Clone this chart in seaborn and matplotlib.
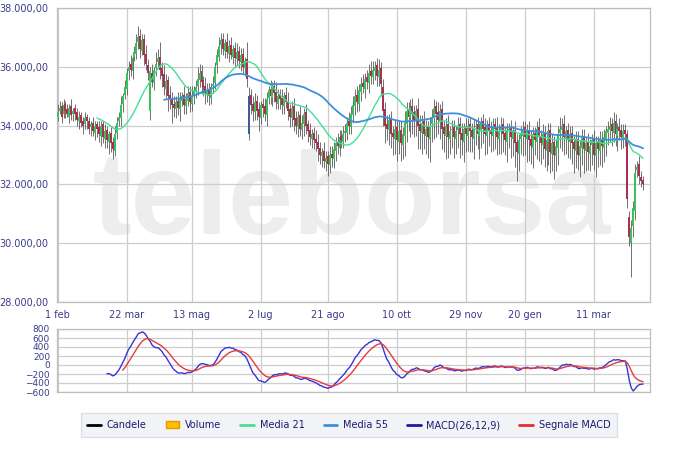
import numpy as np
import pandas as pd
import matplotlib
matplotlib.use("Agg")
import matplotlib.pyplot as plt
from matplotlib.lines import Line2D
from matplotlib.patches import Patch
from matplotlib.ticker import FuncFormatter
import seaborn as sns

sns.set_style("white")
plt.rcParams['font.family'] = ['DejaVu Sans']

# daily candles (1 feb -> early april)
closes = [
    34450, 34600, 34300, 34700, 34500, 34400, 34600, 34350, 34500, 34400,
    34200, 34300, 34100, 34000, 34250, 34150, 33900, 34050, 33800, 34000,
    33900, 33700, 34000, 33600, 33800, 33500, 33700, 33400, 33200, 33700,
    34100, 34300, 34700, 35000, 35300, 35800, 36000, 35900, 36300, 36500,
    36800, 37000, 36600, 36900, 36400, 36100, 35800, 35850, 35500, 35900,
    36100, 36300, 35900, 35700, 35300, 35500, 35000, 34900, 34700, 34600,
    34800, 34600, 34900, 35000, 34700, 34900, 35100, 34800, 35000, 35200,
    35300, 35600, 35800, 35500, 35300, 35100, 35200, 35000, 35300, 35400,
    36000, 36400, 36700, 36900, 36600, 36800, 36500, 36700, 36400, 36600,
    36300, 36500, 36200, 36400, 36000, 36200, 35600, 35000, 34700, 34500,
    34800, 34500, 34300, 34700, 34600, 34400, 34900, 35200, 35000, 35300,
    35100, 34800, 35000, 34900, 34700, 35000, 34800, 34500, 34300, 34600,
    34200, 34000, 34300, 33900, 34100, 34400, 34000, 33800, 33600, 33700,
    33500, 33400, 33200, 33000, 33100, 32800, 32900, 32700, 33000, 32900,
    33200, 33400, 33300, 33600, 33500, 33700, 33800, 34100, 34000, 34400,
    34700, 35000, 34800, 35200, 35400, 35300, 35600, 35500, 35800, 35700,
    35900, 36000, 35700, 35900, 35400, 34500, 34000, 33900, 34200, 33700,
    33600, 33900, 33500, 33800, 33400, 33700, 34100, 34500, 34300, 34600,
    34400, 34200, 34500, 34000, 33800, 34100, 33700, 33900, 33600, 34000,
    34300, 34600, 34400, 34200, 34500, 33900, 33700, 34000, 33600, 33800,
    33900, 33600, 33800, 34000, 33700, 33500, 33900, 33700, 34000, 33800,
    33600, 33900, 34000, 33700, 33800, 34100, 33900, 33700, 34000, 33800,
    33700, 34000, 33900, 33600, 33800, 34000, 33700, 33500, 33800, 33900,
    33600, 33800, 33400, 33100, 33500, 33700, 33900, 33600, 33800, 33500,
    33300, 33700, 33500, 33900, 33600, 33400, 33700, 33200, 33500, 33800,
    33100, 33400, 33000, 33300, 33700, 33900, 34000, 33600, 33800, 33500,
    33700, 33400, 33200, 33500, 33000, 33300, 33600, 33200, 33400, 33100,
    33300, 33500, 33000, 33400, 33200, 33500, 33300, 33600, 33800, 33900,
    34000, 33800, 34100, 33700, 33900, 33800, 33600, 33800, 33700, 31500,
    30200, 30500, 31200, 32400, 32600, 32300, 32100, 32000,
]
opens = [
    34300, 34500, 34650, 34400, 34750, 34550, 34300, 34650, 34400, 34600,
    34450, 34150, 34350, 34150, 34050, 34300, 34150, 33950, 34100, 33750,
    34050, 33950, 33650, 34050, 33550, 33850, 33450, 33750, 33450, 33150,
    33750, 34150, 34250, 34750, 35050, 35250, 35850, 36100, 35850, 36350,
    36450, 36850, 37050, 36550, 36950, 36450, 36050, 34500, 35800, 35450,
    35950, 36150, 36350, 35950, 35750, 35250, 35550, 35050, 34950, 34750,
    34550, 34850, 34550, 34850, 35050, 34650, 34850, 35150, 34750, 35050,
    35150, 35350, 35550, 35850, 35550, 35350, 35050, 35250, 34950, 35350,
    35450, 36050, 36350, 36750, 36950, 36550, 36850, 36450, 36750, 36350,
    36650, 36250, 36550, 36150, 36450, 35950, 36250, 33700, 35050, 34750,
    34450, 34850, 34550, 34250, 34750, 34650, 34350, 34950, 35250, 34950,
    35350, 35150, 34750, 35050, 34950, 34650, 35050, 34850, 34550, 34250,
    34650, 34250, 33950, 34350, 33850, 34050, 34450, 34050, 33850, 33550,
    33750, 33550, 33450, 33250, 32950, 33150, 32750, 32950, 32650, 33050,
    32850, 33150, 33450, 33250, 33650, 33450, 33750, 33750, 34150, 33950,
    34350, 34650, 35050, 34750, 35150, 35450, 35250, 35650, 35450, 35850,
    35650, 35850, 36050, 35650, 35950, 35300, 34550, 34050, 33850, 34250,
    33750, 33550, 33950, 33450, 33850, 33350, 33650, 34050, 34550, 34250,
    34650, 34450, 34150, 34550, 34050, 33750, 34150, 33650, 33950, 33550,
    34050, 34250, 34650, 34450, 34150, 34550, 33950, 33650, 34050, 33550,
    33850, 33950, 33550, 33850, 34050, 33750, 33450, 33950, 33650, 34050,
    33850, 33550, 33950, 34050, 33650, 33850, 34150, 33950, 33650, 34050,
    33850, 33650, 34050, 33950, 33550, 33850, 34050, 33750, 33450, 33850,
    33950, 33550, 33850, 33450, 33050, 33550, 33650, 33950, 33550, 33850,
    33550, 33250, 33750, 33450, 33950, 33650, 33350, 33750, 33150, 33450,
    33850, 33050, 33450, 32950, 33250, 33750, 33850, 34050, 33550, 33850,
    33450, 33750, 33450, 33150, 33550, 32950, 33250, 33650, 33150, 33450,
    33050, 33350, 33550, 32950, 33450, 33150, 33550, 33250, 33550, 33750,
    33850, 34050, 33750, 34150, 33650, 33950, 33850, 33550, 33850, 33700,
    30900, 30000, 30600, 31100, 32500, 32700, 32250, 32150,
]
upper_wick = [
    300, 250, 150, 200, 100, 200, 150, 250, 100, 150,
    150, 200, 100, 150, 200, 100, 150, 100, 200, 150,
    100, 200, 150, 100, 250, 150, 100, 200, 150, 300,
    200, 150, 300, 100, 250, 150, 200, 300, 150, 200,
    300, 400, 250, 200, 150, 300, 200, 150, 300, 100,
    400, 300, 500, 200, 300, 250, 150, 300, 200, 250,
    200, 300, 250, 150, 300, 200, 250, 200, 350, 150,
    250, 400, 300, 200, 150, 300, 250, 200, 150, 300,
    150, 200, 300, 250, 200, 150, 300, 200, 250, 150,
    200, 300, 150, 250, 200, 150, 600, 300, 200, 250,
    300, 200, 250, 150, 200, 300, 250, 150, 300, 200,
    200, 350, 250, 200, 300, 150, 250, 300, 200, 250,
    300, 250, 200, 300, 250, 200, 300, 150, 250, 200,
    200, 300, 250, 200, 150, 300, 250, 200, 300, 250,
    250, 200, 300, 250, 200, 300, 250, 200, 300, 250,
    300, 250, 300, 200, 250, 300, 200, 250, 300, 350,
    300, 200, 250, 350, 200, 300, 250, 300, 200, 250,
    250, 300, 200, 350, 300, 250, 400, 300, 250, 300,
    300, 250, 200, 400, 300, 250, 350, 300, 200, 300,
    250, 300, 200, 350, 250, 300, 200, 250, 300, 200,
    300, 250, 200, 300, 250, 350, 200, 300, 250, 200,
    250, 300, 200, 250, 300, 200, 250, 300, 200, 250,
    300, 250, 200, 350, 250, 300, 200, 250, 300, 200,
    250, 200, 300, 250, 200, 300, 250, 200, 250, 300,
    300, 250, 200, 250, 300, 200, 350, 250, 200, 300,
    250, 300, 200, 250, 300, 400, 250, 300, 200, 250,
    300, 250, 200, 300, 250, 200, 300, 250, 200, 300,
    250, 200, 300, 250, 200, 300, 250, 300, 200, 250,
    300, 200, 350, 250, 200, 300, 200, 250, 200, 150,
    200, 300, 250, 300, 200, 250, 200, 150,
]
lower_wick = [
    150, 100, 200, 150, 250, 100, 200, 150, 250, 200,
    200, 250, 150, 300, 150, 250, 200, 300, 150, 250,
    300, 250, 350, 200, 300, 250, 400, 300, 350, 200,
    200, 150, 250, 300, 150, 200, 300, 200, 250, 150,
    200, 250, 300, 150, 350, 200, 250, 300, 200, 250,
    250, 200, 300, 400, 250, 300, 500, 350, 600, 300,
    300, 250, 400, 200, 300, 250, 200, 350, 250, 300,
    200, 300, 250, 400, 300, 350, 250, 300, 200, 250,
    200, 250, 150, 300, 200, 250, 200, 300, 150, 250,
    300, 200, 250, 300, 200, 250, 300, 200, 300, 350,
    250, 300, 500, 200, 300, 250, 350, 200, 250, 300,
    300, 250, 200, 350, 300, 250, 200, 300, 350, 250,
    400, 300, 350, 250, 300, 400, 300, 350, 250, 300,
    300, 250, 400, 300, 350, 250, 300, 400, 250, 300,
    300, 350, 250, 300, 250, 200, 300, 250, 300, 250,
    250, 300, 350, 250, 300, 200, 300, 250, 350, 300,
    250, 300, 350, 300, 400, 500, 600, 400, 500, 450,
    600, 500, 700, 400, 600, 500, 700, 600, 500, 650,
    700, 600, 500, 800, 600, 700, 500, 600, 700, 800,
    600, 700, 800, 500, 600, 700, 600, 800, 700, 500,
    600, 700, 500, 600, 800, 500, 700, 600, 500, 700,
    500, 700, 600, 500, 800, 600, 500, 700, 600, 500,
    600, 500, 700, 600, 500, 800, 600, 500, 700, 600,
    700, 600, 800, 1000, 600, 500, 700, 600, 800, 700,
    600, 700, 500, 600, 800, 700, 500, 600, 700, 800,
    700, 600, 800, 500, 600, 500, 700, 600, 500, 600,
    600, 700, 800, 600, 500, 700, 600, 800, 700, 600,
    600, 700, 500, 700, 600, 500, 700, 500, 600, 400,
    400, 500, 300, 400, 500, 300, 400, 300, 400, 300,
    300, 1150, 400, 300, 250, 300, 200, 200,
]

tick_pos = [0, 35, 68, 103, 137, 172, 207, 237, 272]
tick_labels = ["1 feb", "22 mar", "13 mag", "2 lug", "21 ago", "10 ott",
               "29 nov", "20 gen", "11 mar"]

df = pd.DataFrame({"open": opens, "close": closes})
df["high"] = df[["open", "close"]].max(axis=1) + np.array(upper_wick)
df["low"] = df[["open", "close"]].min(axis=1) - np.array(lower_wick)
df["idx"] = np.arange(len(df))
df["ma21"] = df["close"].rolling(21).mean()
df["ma55"] = df["close"].rolling(55).mean()
ema12 = df["close"].ewm(span=12, adjust=False).mean()
ema26 = df["close"].ewm(span=26, adjust=False).mean()
macd = ema12 - ema26
macd[:25] = np.nan
signal = macd.ewm(span=9, adjust=False).mean()
signal[:33] = np.nan
df["macd"] = macd
df["signal"] = signal

# candle colour: direction of the day + vs previous close
prev = df["close"].shift(1).fillna(df["open"])
cols = []
for o, c, p in zip(df["open"], df["close"], prev):
    if c >= o and c >= p:
        cols.append("#3cc05a")
    elif c < o and c < p:
        cols.append("#a83050")
    elif c >= o:
        cols.append("#3d5c94")
    else:
        cols.append("#8c8c8c")

lab_col = "#3b3b8c"
grid_col = "#cdcdcd"

fig = plt.figure(figsize=(7, 4.51), dpi=100)
ax = fig.add_axes([57 / 700, 1 - 302 / 451, 593 / 700, 294 / 451])
ax2 = fig.add_axes([57 / 700, 1 - 392 / 451, 593 / 700, 63 / 451])

# watermark
ax.text(149, 30300, "teleborsa", ha="center", va="baseline", fontsize=84,
        fontweight="bold", color="#ededed", zorder=0, clip_on=True,
        family=["Liberation Sans", "DejaVu Sans"])

ax.vlines(df["idx"], df["low"], df["high"], color="#5a5a5a", lw=0.6, zorder=2)
body = (df["close"] - df["open"]).abs().clip(lower=40)
ax.bar(df["idx"], body, bottom=df[["open", "close"]].min(axis=1), width=1.0,
       color=cols, linewidth=0, zorder=3)
sns.lineplot(data=df, x="idx", y="ma21", ax=ax, color="#44e095", lw=1, zorder=4)
sns.lineplot(data=df, x="idx", y="ma55", ax=ax, color="#3f8fe0", lw=1.3, zorder=4)

ax.set_xlim(-0.3, 300.5)
ax.set_ylim(28000, 38000)
ax.set_yticks(np.arange(28000, 38001, 2000))
ax.yaxis.set_major_formatter(FuncFormatter(
    lambda v, p: f"{v:,.2f}".replace(",", "X").replace(".", ",").replace("X", ".")))
ax.set_xticks(tick_pos)
ax.set_xticklabels(tick_labels)
ax.set_xlabel("")
ax.set_ylabel("")
ax.grid(True, color=grid_col, lw=0.9)
ax.set_axisbelow(True)
ax.tick_params(axis="both", labelsize=7, colors=lab_col, length=4, color=grid_col, pad=2)
for s in ax.spines.values():
    s.set_color("#bdbdbd")
    s.set_linewidth(0.9)

sns.lineplot(data=df, x="idx", y="macd", ax=ax2, color="#3535d8", lw=1)
sns.lineplot(data=df, x="idx", y="signal", ax=ax2, color="#e83a3a", lw=1)
ax2.set_xlim(-0.3, 300.5)
ax2.set_ylim(-600, 800)
ax2.set_yticks(np.arange(-600, 801, 200))
ax2.set_xticks(tick_pos)
ax2.set_xticklabels([])
ax2.set_xlabel("")
ax2.set_ylabel("")
ax2.grid(True, color=grid_col, lw=0.9)
ax2.set_axisbelow(True)
ax2.tick_params(axis="y", labelsize=6.5, colors=lab_col, length=3, color=grid_col, pad=2)
ax2.tick_params(axis="x", length=0)
for s in ax2.spines.values():
    s.set_color("#bdbdbd")
    s.set_linewidth(0.9)

handles = [
    Line2D([], [], color="black", lw=2),
    Patch(facecolor="#ffc000", edgecolor="#e39b00"),
    Line2D([], [], color="#44e095", lw=2),
    Line2D([], [], color="#3f8fe0", lw=2),
    Line2D([], [], color="#1a1aa0", lw=2),
    Line2D([], [], color="#e03030", lw=2),
]
labels = ["Candele", "Volume", "Media 21", "Media 55", "MACD(26,12,9)", "Segnale MACD"]
leg = fig.legend(handles, labels, loc="center", bbox_to_anchor=(349 / 700, 1 - 425 / 451),
                 ncol=6, fontsize=7, frameon=True, fancybox=False,
                 handlelength=1.4, handletextpad=0.6, columnspacing=1.95,
                 borderpad=0.7, facecolor="#eef1f5", edgecolor="#d5d9e0")
for t in leg.get_texts():
    t.set_color("#1a1a6e")

fig.savefig("out.png", dpi=100)
